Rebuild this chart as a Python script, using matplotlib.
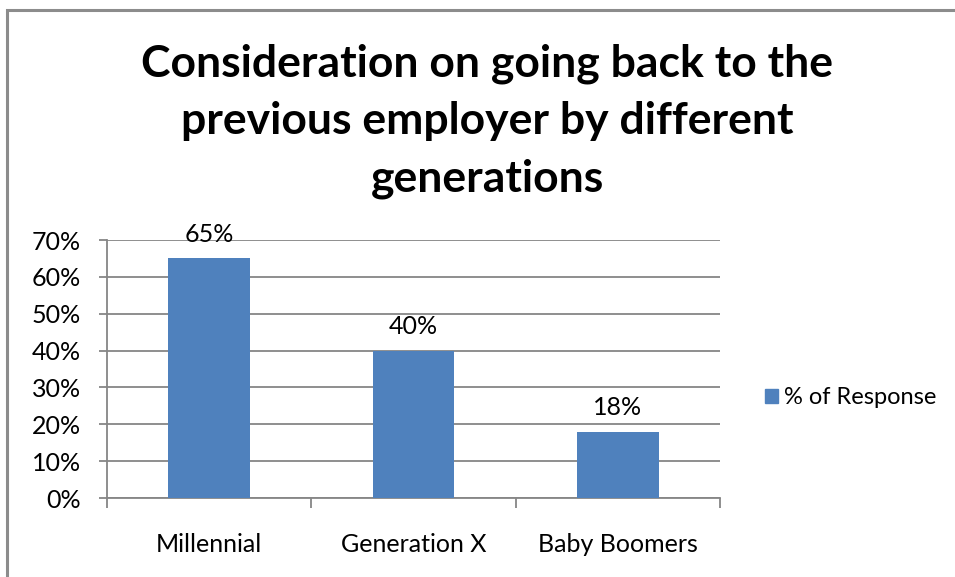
import matplotlib
matplotlib.use("Agg")
import matplotlib.pyplot as plt
from matplotlib.patches import Rectangle, Patch
from matplotlib.ticker import PercentFormatter

categories = ["Millennial", "Generation X", "Baby Boomers"]
response = [65, 40, 18]
yticks = [0, 10, 20, 30, 40, 50, 60, 70]

plt.rcParams["font.family"] = ["Lato", "DejaVu Sans"]

W, H = 955, 577
fig = plt.figure(figsize=(W / 100, H / 100), dpi=100)

# outer chart frame (runs off the right and bottom edge)
fig.patches.append(Rectangle((7 / W, -0.05), 1.2, 1 - 10 / H + 0.05,
                             transform=fig.transFigure, fill=False,
                             edgecolor="#8c8c8c", linewidth=2.2))

ax = fig.add_axes([107 / W, 1 - 498 / H, (720 - 107) / W, (498 - 240) / H])

x = range(len(categories))
bars = ax.bar(x, response, width=0.4, color="#4F81BD", zorder=3,
              label="% of Response")

for b, v in zip(bars, response):
    ax.text(b.get_x() + b.get_width() / 2, v + 6.6, f"{v}%",
            ha="center", va="center", fontsize=18, color="#000000")

ax.set_xlim(-0.5, len(categories) - 0.5)
ax.set_ylim(0, 70)
ax.set_yticks(yticks)
ax.yaxis.set_major_formatter(PercentFormatter(decimals=0))
ax.grid(axis="y", color="#868686", linewidth=1.3, zorder=0)

ax.set_xticks([0, 1, 2])
ax.set_xticklabels(categories, fontsize=18)
ax.set_xticks([-0.5, 0.5, 1.5, 2.5], minor=True)
ax.tick_params(axis="x", which="major", length=0, pad=25)
ax.tick_params(axis="x", which="minor", length=7, width=1.3, color="#868686")
ax.tick_params(axis="y", length=6, width=1.3, color="#868686",
               labelsize=18, pad=13)

for s in ["top", "right"]:
    ax.spines[s].set_visible(False)
for s in ["left", "bottom"]:
    ax.spines[s].set_color("#868686")
    ax.spines[s].set_linewidth(1.3)

fig.text(487 / W, 1 - 121 / H,
         "Consideration on going back to the\nprevious employer by different\ngenerations",
         ha="center", va="center", fontsize=32, fontweight="bold",
         linespacing=1.52)

fig.legend(handles=[Patch(color="#4F81BD", label="% of Response")],
           loc="center left", bbox_to_anchor=(765 / W, 1 - 398 / H),
           frameon=False, fontsize=17, handlelength=0.55, handleheight=0.55,
           handletextpad=0.25, borderpad=0, borderaxespad=0)

fig.savefig("out.png", dpi=100)
